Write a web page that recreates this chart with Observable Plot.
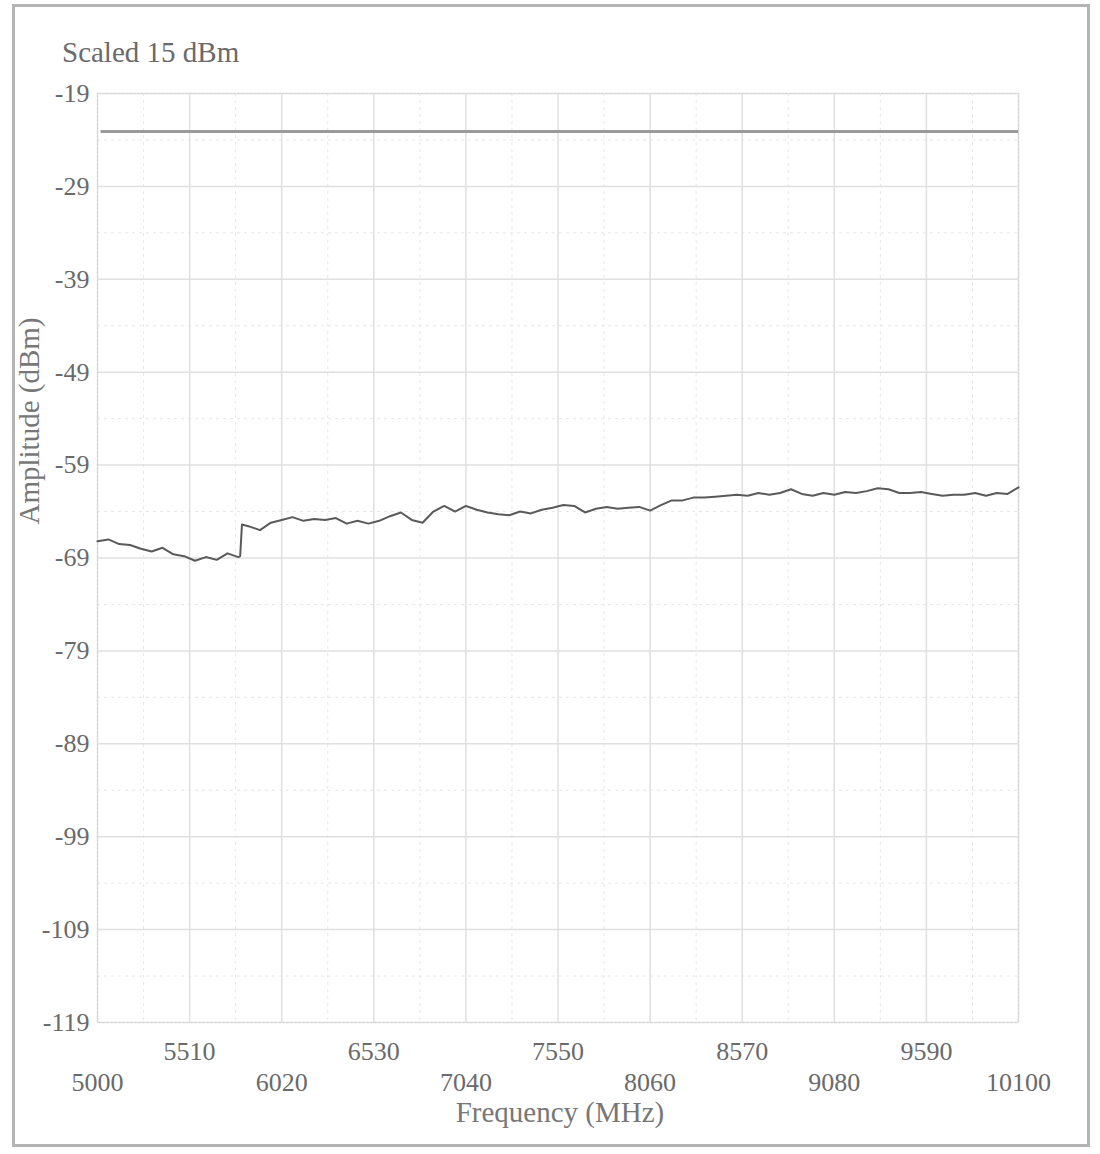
<!DOCTYPE html>
<html>
<head>
<meta charset="utf-8">
<script src="https://cdn.jsdelivr.net/npm/d3@7"></script>
<script src="https://cdn.jsdelivr.net/npm/@observablehq/plot@0.6"></script>
<style>
  body { margin: 0; background: #fff; }
  #wrap { position: relative; width: 1100px; height: 1154px; overflow: hidden; font-family: "Liberation Serif", "DejaVu Serif", serif; }
  #border { position: absolute; left: 12px; top: 4px; width: 1078px; height: 1143px; border: 3px solid #b4b4b4; box-sizing: border-box; pointer-events: none; }
  #title { position: absolute; left: 62px; top: 37px; font-size: 29px; line-height: 30px; color: #6a6a6a; }
  #ylabel { position: absolute; left: 29px; top: 421px; transform: translate(-50%, -50%) rotate(-90deg); font-size: 29px; line-height: 30px; color: #777; white-space: nowrap; }
  #xlabel { position: absolute; left: 560px; top: 1097px; transform: translateX(-50%); font-size: 29px; line-height: 30px; color: #777; white-space: nowrap; }
  #chart { position: absolute; left: 0; top: 0; }
</style>
</head>
<body>
<div id="wrap">
  <div id="chart"></div>
  <div id="border"></div>
  <div id="title">Scaled 15 dBm</div>
  <div id="ylabel">Amplitude (dBm)</div>
  <div id="xlabel">Frequency (MHz)</div>
</div>
<script>
const freq = [5000,5060,5120,5180,5240,5300,5360,5420,5480,5540,5600,5660,5720,5780,5790,5800,5840,5900,5960,6020,6080,6140,6200,6260,6320,6380,6440,6500,6560,6620,6680,6740,6800,6860,6920,6980,7040,7100,7160,7220,7280,7340,7400,7460,7520,7580,7640,7700,7760,7820,7880,7940,8000,8060,8120,8180,8240,8300,8360,8420,8480,8540,8600,8660,8720,8780,8840,8900,8960,9020,9080,9140,9200,9260,9320,9380,9440,9500,9560,9620,9680,9740,9800,9860,9920,9980,10040,10100];
const amplitude = [-67.2,-67.0,-67.5,-67.6,-68.0,-68.3,-67.9,-68.6,-68.8,-69.3,-68.9,-69.2,-68.5,-68.9,-68.8,-65.4,-65.6,-66.0,-65.2,-64.9,-64.6,-65.0,-64.8,-64.9,-64.7,-65.3,-65.0,-65.3,-65.0,-64.5,-64.1,-64.9,-65.2,-64.0,-63.4,-64.0,-63.4,-63.8,-64.1,-64.3,-64.4,-64.0,-64.2,-63.8,-63.6,-63.3,-63.4,-64.1,-63.7,-63.5,-63.7,-63.6,-63.5,-63.9,-63.3,-62.8,-62.8,-62.5,-62.5,-62.4,-62.3,-62.2,-62.3,-62.0,-62.2,-62.0,-61.6,-62.1,-62.3,-62.0,-62.2,-61.9,-62.0,-61.8,-61.5,-61.6,-62.0,-62.0,-61.9,-62.1,-62.3,-62.2,-62.2,-62.0,-62.3,-62.0,-62.1,-61.4];
const limitLevel = -23.1;
const xTicksUpper = [5510,6530,7550,8570,9590];
const xTicksLower = [5000,6020,7040,8060,9080,10100];
const xMajor = [5000,5510,6020,6530,7040,7550,8060,8570,9080,9590,10100];
const yTicks = [-19,-29,-39,-49,-59,-69,-79,-89,-99,-109,-119];
const xMinor = [5255,5765,6275,6785,7295,7805,8315,8825,9335,9845];
const yMinor = [-24,-34,-44,-54,-64,-74,-84,-94,-104,-114];

const trace = freq.map((f, i) => ({f, a: amplitude[i]}));
const fmt = d => String(d);

const chart = Plot.plot({
  width: 1100,
  height: 1154,
  marginLeft: 97,
  marginRight: 82,
  marginTop: 93,
  marginBottom: 132,
  style: {fontFamily: '"Liberation Serif", "DejaVu Serif", serif', fontSize: "26px", color: "#6a6a6a", background: "transparent"},
  x: {domain: [5000, 10100]},
  y: {domain: [-119, -19]},
  marks: [
    Plot.ruleX(xMinor, {stroke: "#e6e6e6", strokeDasharray: "3,4"}),
    Plot.ruleY(yMinor, {stroke: "#e6e6e6", strokeDasharray: "3,4"}),
    Plot.ruleX(xMajor, {stroke: "#e0e0e0", strokeWidth: 1.5}),
    Plot.ruleY(yTicks, {stroke: "#e0e0e0", strokeWidth: 1.5}),
    Plot.frame({stroke: "#cfcfcf", strokeDasharray: "2,2"}),
    Plot.axisY({ticks: yTicks, tickSize: 0, tickPadding: 8, label: null, tickFormat: fmt, fontSize: 26, fill: "#6a6a6a"}),
    Plot.axisX({ticks: xTicksUpper, tickSize: 0, tickPadding: 19, label: null, tickFormat: fmt, fontSize: 26, fill: "#6a6a6a"}),
    Plot.axisX({ticks: xTicksLower, tickSize: 0, tickPadding: 50, label: null, tickFormat: fmt, fontSize: 26, fill: "#6a6a6a"}),
    Plot.ruleY([limitLevel], {x1: 5020, x2: 10100, stroke: "#9a9a9a", strokeWidth: 3}),
    Plot.line(trace, {x: "f", y: "a", stroke: "#5a5a5a", strokeWidth: 2})
  ]
});
document.getElementById("chart").appendChild(chart);
</script>
</body>
</html>
